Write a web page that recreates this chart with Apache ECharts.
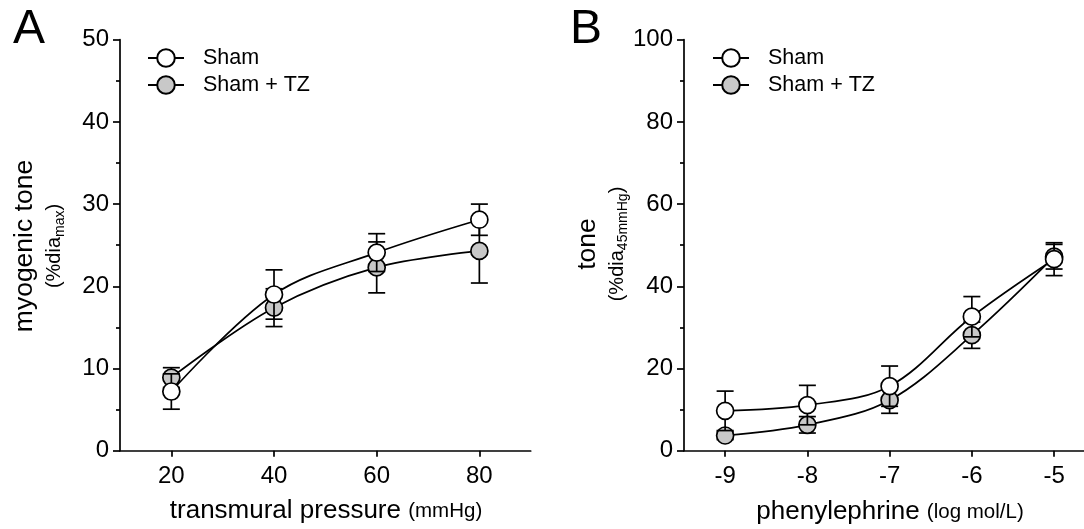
<!DOCTYPE html>
<html><head><meta charset="utf-8">
<script src="https://cdn.jsdelivr.net/npm/echarts@6/dist/echarts.min.js"></script>
<style>html,body{margin:0;padding:0;background:#fff}#c{width:1084px;height:529px}</style>
</head><body><div id="c"></div>
<script>
// Panel A: myogenic tone vs transmural pressure
const pressureTicks = [20, 40, 60, 80];
const shamA = [7.2, 19.0, 24.1, 28.1];
const shamASem = [2.15, 3.0, 2.3, 1.9];
const tzA = [8.9, 17.4, 22.3, 24.3];
const tzASem = [1.2, 2.3, 3.1, 3.9];
// Panel B: tone vs phenylephrine
const logPETicks = [-9, -8, -7, -6, -5];
const shamB = [9.7, 11.1, 15.7, 32.6, 46.6];
const shamBSem = [4.8, 4.8, 4.9, 4.9, 4.0];
const tzB = [3.7, 6.3, 12.3, 28.1, 47.2];
const tzBSem = [1.0, 2.0, 3.2, 3.2, 3.0];
const seriesNames = ['Sham', 'Sham + TZ'];

const FONT = 'Liberation Sans, Arial, Helvetica, sans-serif';
const GRAY = '#c8c8c8';

function pts(xs, ys) { return xs.map((x, i) => [x, ys[i]]); }
function errPts(xs, ys, es) { return xs.map((x, i) => [x, ys[i], es[i]]); }

function errRender(params, api) {
  const x = api.value(0), y = api.value(1), e = api.value(2);
  const top = api.coord([x, y + e]), bot = api.coord([x, y - e]);
  const hw = 8.5;
  const st = { stroke: '#000', lineWidth: 1.7 };
  return { type: 'group', children: [
    { type: 'line', shape: { x1: top[0], y1: top[1], x2: bot[0], y2: bot[1] }, style: st },
    { type: 'line', shape: { x1: top[0] - hw, y1: top[1], x2: top[0] + hw, y2: top[1] }, style: st },
    { type: 'line', shape: { x1: bot[0] - hw, y1: bot[1], x2: bot[0] + hw, y2: bot[1] }, style: st }
  ]};
}

function lineSeries(name, data, idx, fill, z) {
  return {
    name, type: 'line', data, xAxisIndex: idx, yAxisIndex: idx, smooth: 0.35,
    symbol: 'circle', symbolSize: 17, z,
    lineStyle: { color: '#000', width: 1.7 },
    itemStyle: { color: fill, borderColor: '#000', borderWidth: 1.7 },
    emphasis: { disabled: true }
  };
}
function errSeries(name, data, idx, z) {
  return { name: name + ' SEM', type: 'custom', data, xAxisIndex: idx, yAxisIndex: idx, renderItem: errRender, z,
    encode: { x: 0, y: [1, 2] } };
}

const axisLine = { show: true, lineStyle: { color: '#000', width: 1.7 } };
const labelStyle = { color: '#000', fontSize: 24, fontFamily: FONT };

function xAxis(idx, min, max, ticks) {
  return {
    type: 'value', gridIndex: idx, min, max,
    axisLine, splitLine: { show: false },
    axisTick: { show: true, length: 6, customValues: ticks, lineStyle: { color: '#000', width: 1.7 } },
    axisLabel: Object.assign({ margin: 14, customValues: ticks }, labelStyle)
  };
}
function yAxis(idx, max, interval) {
  return {
    type: 'value', gridIndex: idx, min: 0, max, interval,
    axisLine, splitLine: { show: false },
    axisTick: { show: true, length: 7, lineStyle: { color: '#000', width: 1.7 } },
    minorTick: { show: true, splitNumber: 2, length: 4, lineStyle: { color: '#000', width: 1.7 } },
    axisLabel: Object.assign({ margin: 11 }, labelStyle)
  };
}
function legend(left) {
  return {
    data: seriesNames, orient: 'vertical', left, top: 47, padding: 0,
    itemWidth: 36, itemHeight: 22, itemGap: 5, selectedMode: false,
    textStyle: { color: '#000', fontSize: 21.5, fontFamily: FONT, padding: [0, 0, 0, 14] }
  };
}

const chart = echarts.init(document.getElementById('c'), null, { renderer: 'canvas' });
chart.setOption({
  backgroundColor: '#fff',
  animation: false,
  grid: [
    { left: 120, top: 39.7, width: 410.7, height: 411 },
    { left: 684, top: 39.7, width: 399.7, height: 411 }
  ],
  xAxis: [xAxis(0, 10, 90, pressureTicks), xAxis(1, -9.5, -4.64, logPETicks)],
  yAxis: [yAxis(0, 50, 10), yAxis(1, 100, 20)],
  legend: [legend(147), legend(712)],
  series: [
    errSeries(seriesNames[1], errPts(pressureTicks, tzA, tzASem), 0, 2),
    lineSeries(seriesNames[1], pts(pressureTicks, tzA), 0, GRAY, 3),
    errSeries(seriesNames[0], errPts(pressureTicks, shamA, shamASem), 0, 4),
    lineSeries(seriesNames[0], pts(pressureTicks, shamA), 0, '#fff', 5),
    errSeries(seriesNames[1], errPts(logPETicks, tzB, tzBSem), 1, 2),
    lineSeries(seriesNames[1], pts(logPETicks, tzB), 1, GRAY, 3),
    errSeries(seriesNames[0], errPts(logPETicks, shamB, shamBSem), 1, 4),
    lineSeries(seriesNames[0], pts(logPETicks, shamB), 1, '#fff', 5)
  ],
  graphic: [
    { type: 'text', x: 29, y: 30, style: { text: 'A', font: '48px ' + FONT, fill: '#000', align: 'center', verticalAlign: 'middle' } },
    { type: 'text', x: 586, y: 30, style: { text: 'B', font: '48px ' + FONT, fill: '#000', align: 'center', verticalAlign: 'middle' } },
    { type: 'text', x: 326, y: 511, style: {
        text: '{a|transmural pressure }{b|(mmHg)}', align: 'center', verticalAlign: 'middle',
        rich: { a: { fontSize: 26, fontFamily: FONT, fill: '#000' }, b: { fontSize: 20.5, fontFamily: FONT, fill: '#000' } } } },
    { type: 'text', x: 890, y: 512, style: {
        text: '{a|phenylephrine }{b|(log mol/L)}', align: 'center', verticalAlign: 'middle',
        rich: { a: { fontSize: 26, fontFamily: FONT, fill: '#000' }, b: { fontSize: 20.5, fontFamily: FONT, fill: '#000' } } } },
    { type: 'text', x: 38, y: 246, rotation: Math.PI / 2, style: {
        text: '{a|myogenic tone}\n{b|(%dia}{s|max}{b|)}', align: 'center', verticalAlign: 'middle',
        rich: {
          a: { fontSize: 26.5, lineHeight: 32, fontFamily: FONT, fill: '#000' },
          b: { fontSize: 20, lineHeight: 26, fontFamily: FONT, fill: '#000' },
          s: { fontSize: 14, lineHeight: 14, verticalAlign: 'bottom', fontFamily: FONT, fill: '#000' }
        } } },
    { type: 'text', x: 601, y: 244, rotation: Math.PI / 2, style: {
        text: '{a|tone}\n{b|(%dia}{s|45mmHg}{b|)}', align: 'center', verticalAlign: 'middle',
        rich: {
          a: { fontSize: 26.5, lineHeight: 32, fontFamily: FONT, fill: '#000' },
          b: { fontSize: 20, lineHeight: 26, fontFamily: FONT, fill: '#000' },
          s: { fontSize: 14, lineHeight: 14, verticalAlign: 'bottom', fontFamily: FONT, fill: '#000' }
        } } }
  ]
});
</script></body></html>
